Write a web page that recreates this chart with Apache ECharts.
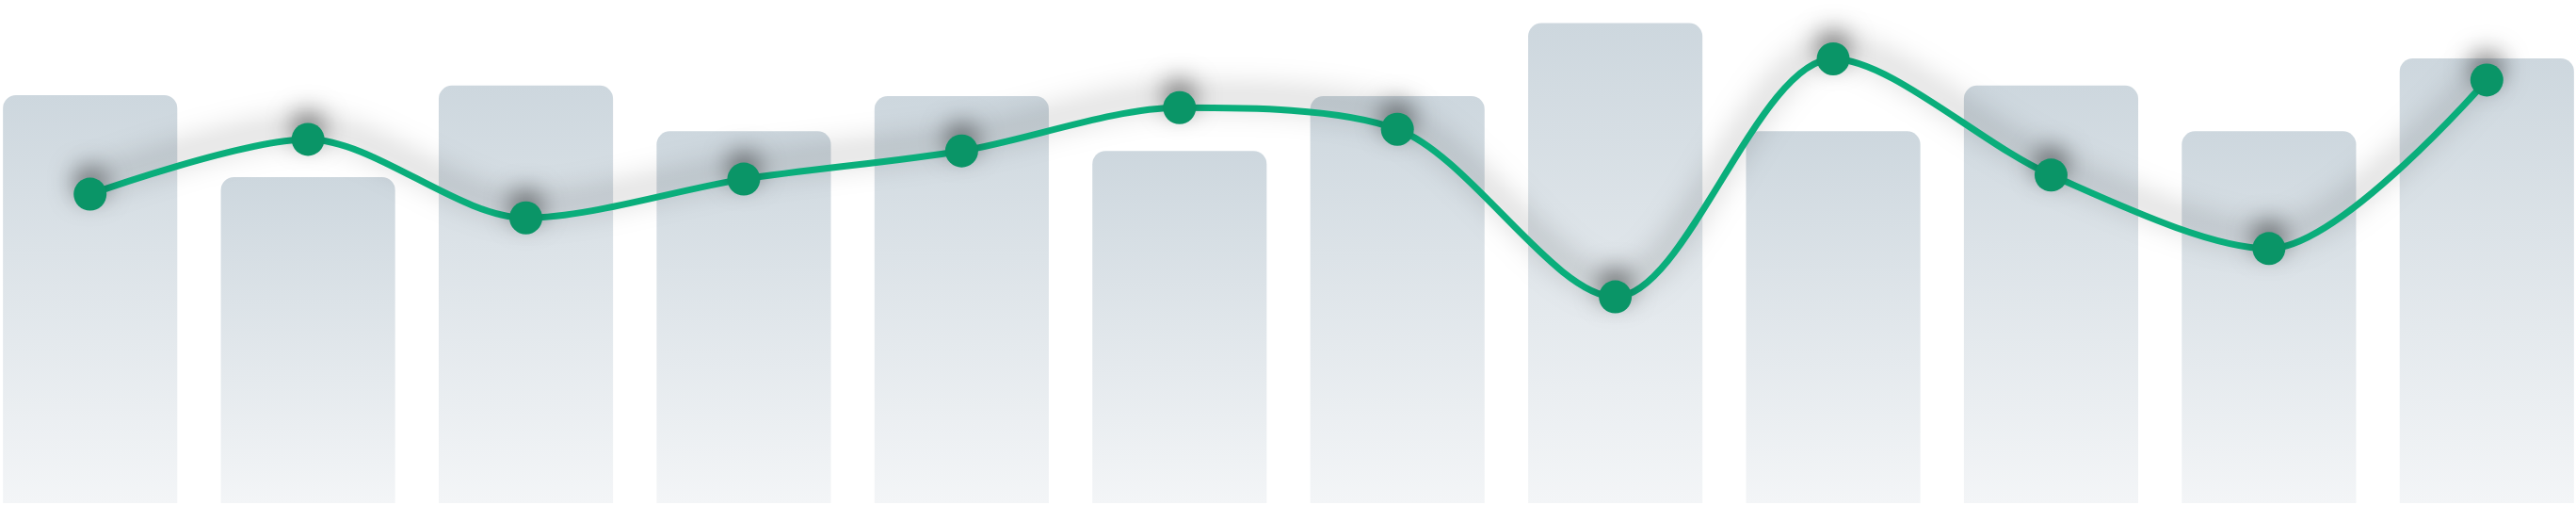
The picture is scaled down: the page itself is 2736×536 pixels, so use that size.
<!DOCTYPE html>
<html>
<head>
<meta charset="utf-8">
<script src="https://cdn.jsdelivr.net/npm/echarts@6/dist/echarts.min.js"></script>
<style>
html,body{margin:0;padding:0;background:#ffffff;overflow:hidden;width:2736px;height:536px;}
#chart{width:2777px;height:536px;margin-left:-20.5px;}
</style>
</head>
<body>
<div id="chart"></div>
<script>
const categories = ['1','2','3','4','5','6','7','8','9','10','11','12'];
const barValues = [81.1, 64.8, 83.0, 73.9, 80.9, 70.0, 80.9, 95.4, 73.9, 83.0, 73.9, 88.4];
const lineValues = [61.4, 72.3, 56.7, 64.4, 70.0, 78.6, 74.3, 41.0, 88.3, 65.2, 50.6, 84.1];

const chart = echarts.init(document.getElementById('chart'), null, {renderer: 'canvas'});
chart.setOption({
  animation: false,
  backgroundColor: '#ffffff',
  grid: {left: 0, right: 0, top: 0, bottom: 2},
  xAxis: {
    type: 'category',
    data: categories,
    show: false
  },
  yAxis: {
    type: 'value',
    min: 0,
    max: 100,
    show: false
  },
  series: [
    {
      type: 'bar',
      data: barValues,
      barCategoryGap: '20%',
      itemStyle: {
        borderRadius: [14, 14, 0, 0],
        color: new echarts.graphic.LinearGradient(0, 0, 0, 1, [
          {offset: 0, color: '#cdd7de'},
          {offset: 1, color: '#f3f5f7'}
        ])
      },
      z: 1
    },
    {
      type: 'line',
      data: lineValues,
      smooth: 0.3,
      symbol: 'circle',
      symbolSize: 35,
      lineStyle: {
        width: 7,
        color: '#0aae7b',
        shadowColor: 'rgba(0,0,0,0.5)',
        shadowBlur: 32,
        shadowOffsetY: -12
      },
      itemStyle: {
        color: '#0a9567',
        shadowColor: 'rgba(0,0,0,0.5)',
        shadowBlur: 26,
        shadowOffsetY: -12
      },
      z: 3
    }
  ]
});
</script>
</body>
</html>
